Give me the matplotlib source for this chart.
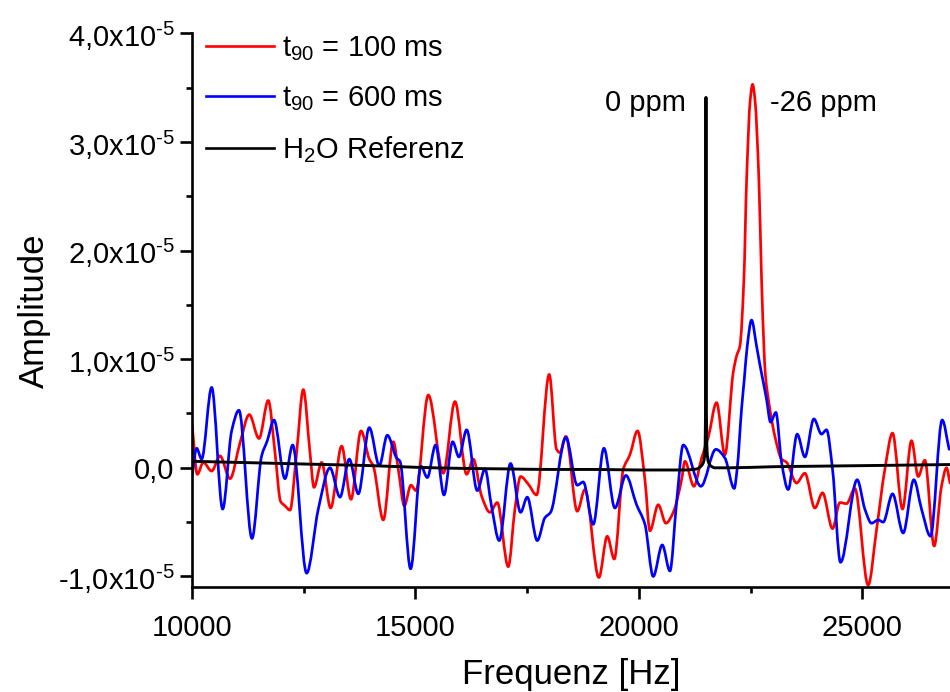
import matplotlib
matplotlib.use("Agg")
import matplotlib.pyplot as plt
from matplotlib.ticker import FixedLocator, MultipleLocator
from matplotlib.path import Path
from matplotlib.patches import PathPatch
from matplotlib.lines import Line2D
import numpy as np

plt.rcParams['font.family'] = ['Liberation Sans', 'DejaVu Sans']
plt.rcParams['mathtext.fontset'] = 'custom'
plt.rcParams['mathtext.rm'] = 'Liberation Sans'
plt.rcParams['mathtext.it'] = 'Liberation Sans:italic'
plt.rcParams['mathtext.bf'] = 'Liberation Sans:bold'

SCALE = 1e-6  # amplitudes below are given in units of 1e-6

# t90 = 100 ms
red_f = [10000, 10119, 10253, 10440, 10626, 10850, 11074, 11282, 11499, 11707,
         11857, 11983, 12080, 12192, 12341, 12490, 12640, 12729, 12901, 13102,
         13348, 13557, 13781, 13967, 14057, 14280, 14504, 14616, 14750, 14899,
         15011, 15287, 15623, 15884, 16145, 16294, 16480, 16667, 16830, 17076,
         17225, 17352, 17524, 17710, 17993, 18157, 18232, 18366, 18620, 18791,
         19104, 19291, 19448, 19649, 19798, 19969, 20134, 20246, 20432, 20604,
         20768, 20954, 21029, 21230, 21402, 21551, 21737, 21923, 22110, 22185,
         22259, 22348, 22409, 22491, 22543, 22596, 22684, 22744, 22796, 22825,
         22930, 23042, 23191, 23303, 23526, 23713, 23936, 24108, 24332, 24496,
         24645, 24831, 25129, 25316, 25502, 25674, 25897, 26099, 26248, 26397,
         26606, 26770, 26882, 26960]
red_v = [4.1, -0.6, 0.5, -0.3, 1.1, -1.0, 2.3, 4.9, 2.7, 6.2,
         1.4, -3.1, -3.5, -3.9, 1.4, 7.2, 1.4, -1.8, 0.5, -3.7,
         2.0, -2.9, 3.4, 0.8, 0.15, -4.8, 2.4, -0.15, -3.5, -1.6,
         -2.1, 6.7, -0.5, 6.1, -0.6, 0.8, -2.6, -4.1, -3.2, -9.1,
         -3.8, -0.8, -1.5, -2.5, 8.6, 1.7, 1.4, 2.9, -4.0, -2.0,
         -10.1, -6.3, -8.4, -0.15, 1.2, 3.4, -1.1, -5.8, -3.4, -5.1,
         -4.1, -1.1, 0.6, -1.7, 0.9, 2.8, 6.0, 1.2, 8.8, 10.3,
         11.2, 17.3, 26.5, 33.9, 35.3, 33.9, 26.5, 17.3, 11.2, 8.8,
         5.4, 2.9, 0.8, 0.5, -1.4, -0.5, -3.7, -2.3, -5.6, -3.2,
         -3.3, -1.9, -10.8, -5.7, -0.15, 3.2, -3.8, 2.5, -0.8, 0.7,
         -7.2, -1.7, 0.0, -1.4]

# t90 = 600 ms
blue_f = [10000, 10104, 10216, 10440, 10686, 10887, 11051, 11342, 11558, 11685,
          11834, 12080, 12252, 12565, 12826, 13087, 13311, 13520, 13721, 13967,
          14191, 14370, 14579, 14653, 14892, 15123, 15265, 15451, 15638, 15832,
          15973, 16145, 16383, 16555, 16700, 16875, 17128, 17352, 17501, 17725,
          17896, 18023, 18366, 18620, 18754, 18978, 19216, 19462, 19708, 19947,
          20134, 20320, 20522, 20693, 20842, 20991, 21387, 21722, 21924, 22132,
          22200, 22296, 22356, 22423, 22520, 22632, 22706, 22856, 22945, 23064,
          23191, 23340, 23541, 23713, 23914, 24085, 24197, 24332, 24510, 24883,
          25055, 25204, 25353, 25465, 25674, 25912, 26151, 26323, 26524, 26785,
          26941]
blue_v = [-0.8, 1.8, 0.8, 7.4, -3.8, 3.4, 5.3, -6.5, 1.1, 2.5,
          4.4, -1.0, 2.1, -9.7, -3.8, 0.0, -2.7, 0.8, -2.4, 3.7,
          0.2, 3.0, 0.9, 0.6, -9.3, 0.15, -0.9, 2.1, -2.5, 2.4,
          1.0, 3.5, -2.1, -0.1, -3.5, -6.7, 0.4, -4.1, -2.7, -6.7,
          -4.6, -4.1, 2.8, -1.6, -1.3, -5.2, 1.8, -3.7, -0.7, -3.4,
          -5.2, -10.0, -7.1, -9.5, -3.2, 2.1, -1.7, 1.7, 0.9, -1.9,
          0.0, 5.4, 8.1, 11.2, 13.6, 11.2, 9.5, 6.3, 4.2, 5.1,
          0.5, -2.0, 3.1, 1.0, 4.5, 3.1, 3.5, -0.15, -8.7, -1.1,
          -3.8, -5.1, -4.8, -5.0, -2.4, -6.0, -1.1, -3.8, -6.3, 4.4,
          1.7]

# H2O reference
h2o_f = [10000, 11000, 12000, 13000, 14000, 15000, 16000, 17000, 18000, 19000,
         20000, 21000, 21300, 21400, 21450, 21475, 21490, 21500, 21510, 21525,
         21550, 21600, 21700, 22000, 23000, 24000, 25000, 26000, 26960]
h2o_v = [0.6, 0.5, 0.4, 0.3, 0.2, 0.05, -0.05, -0.1, -0.15, -0.15,
         -0.2, -0.2, -0.1, 0.2, 0.6, 1.5, 5.0, 34.1, 5.0, 1.5,
         0.6, 0.2, 0.0, 0.0, 0.1, 0.15, 0.2, 0.25, 0.3]

series_labels = [r'$\mathregular{t_{90}}$ = 100 ms',
                 r'$\mathregular{t_{90}}$ = 600 ms',
                 r'$\mathregular{H_{2}}$O Referenz']
series_colors = ['#ff0000', '#0000ff', 'black']
y_ticks = [-1e-5, 0.0, 1e-5, 2e-5, 3e-5, 4e-5]
y_ticklabels = [r'-1,0x10$^{\text{-5}}$', '0,0',
                r'1,0x10$^{\text{-5}}$', r'2,0x10$^{\text{-5}}$',
                r'3,0x10$^{\text{-5}}$', r'4,0x10$^{\text{-5}}$']
x_ticks = [10000, 15000, 20000, 25000]
peak_labels = ['0 ppm', '-26 ppm']


def smooth_path(x, y):
    """Spline-connected line (monotone cubic Hermite segments as Bezier curves)."""
    x = np.asarray(x, float)
    y = np.asarray(y, float)
    h = np.diff(x)
    d = np.diff(y) / h
    m = np.zeros_like(y)
    m[0], m[-1] = d[0], d[-1]
    for k in range(1, len(y) - 1):
        if d[k - 1] * d[k] > 0:
            w1 = 2 * h[k] + h[k - 1]
            w2 = h[k] + 2 * h[k - 1]
            m[k] = (w1 + w2) / (w1 / d[k - 1] + w2 / d[k])
    verts = [(x[0], y[0])]
    codes = [Path.MOVETO]
    for k in range(len(x) - 1):
        verts += [(x[k] + h[k] / 3, y[k] + m[k] * h[k] / 3),
                  (x[k + 1] - h[k] / 3, y[k + 1] - m[k + 1] * h[k] / 3),
                  (x[k + 1], y[k + 1])]
        codes += [Path.CURVE4] * 3
    return Path(verts, codes)


fig = plt.figure(figsize=(9.5, 6.92), dpi=100)
ax = fig.add_axes([192 / 950, 1 - 587.3 / 692, 1 - 192 / 950, (587.3 - 33.3) / 692])

series = [(red_f, red_v), (blue_f, blue_v), (h2o_f, h2o_v)]
widths = [1.95, 1.95, 2.1]
for (fx, fv), col, w in zip(series, series_colors, widths):
    ax.add_patch(PathPatch(smooth_path(fx, np.array(fv) * SCALE), fill=False,
                           edgecolor=col, lw=w, joinstyle='round', capstyle='round'))

ax.set_xlim(10000, 26960)
ax.set_ylim(-1.1e-5, 4.0e-5)

ax.xaxis.set_major_locator(FixedLocator(x_ticks))
ax.xaxis.set_minor_locator(MultipleLocator(2500))
ax.set_xticklabels([str(t) for t in x_ticks])
ax.yaxis.set_major_locator(FixedLocator(y_ticks))
ax.yaxis.set_minor_locator(MultipleLocator(0.5e-5))
ax.set_yticklabels(y_ticklabels)

for side in ('top', 'right'):
    ax.spines[side].set_visible(False)
for side in ('left', 'bottom'):
    ax.spines[side].set_linewidth(1.9)

ax.tick_params(which='major', direction='out', length=8.5, width=1.9, labelsize=21,
               pad=4)
ax.tick_params(which='minor', direction='out', length=4.5, width=1.9)
ax.tick_params(axis='x', which='major', pad=11)
ax.set_xlabel('Frequenz [Hz]', fontsize=25, labelpad=11)
ax.set_ylabel('Amplitude', fontsize=25, labelpad=5)

ax.text(21051, 3.36e-5, peak_labels[0], fontsize=21, ha='right', va='center')
ax.text(22930, 3.36e-5, peak_labels[1], fontsize=21, ha='left', va='center')

handles = [Line2D([], [], color=c, lw=1.9) for c in series_colors]
ax.legend(handles, series_labels, loc='upper left', bbox_to_anchor=(-0.005, 1.03),
          frameon=False, fontsize=21, handlelength=2.35, handletextpad=0.25,
          labelspacing=0.72, borderaxespad=0.2)

fig.savefig('out.png', dpi=100)
